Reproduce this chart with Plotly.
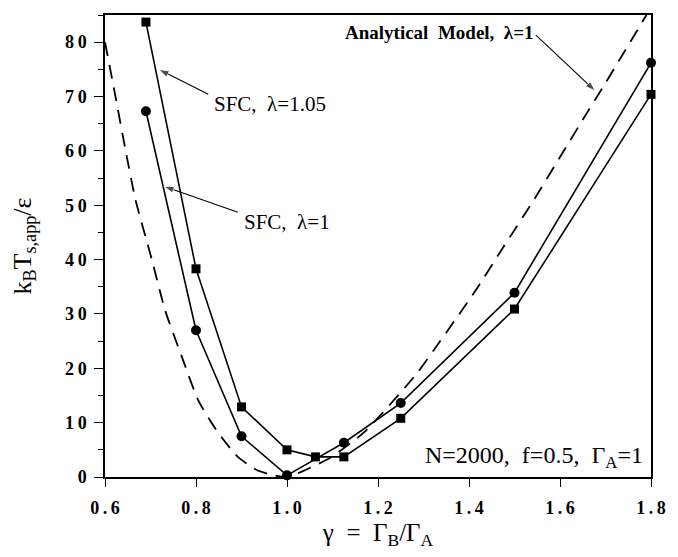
import plotly.graph_objects as go

# SFC, lambda = 1.05 (squares)
sfc105_x = [0.69, 0.8, 0.9, 1.0, 1.0625, 1.125, 1.25, 1.5, 1.8]
sfc105_y = [83.7, 38.3, 12.9, 5.0, 3.7, 3.7, 10.8, 30.9, 70.4]

# SFC, lambda = 1 (circles)
sfc1_x = [0.69, 0.8, 0.9, 1.0, 1.125, 1.25, 1.5, 1.8]
sfc1_y = [67.3, 27.0, 7.5, 0.3, 6.3, 13.6, 33.9, 76.2]

# Analytical model, lambda = 1 (dashed)
ana_x = [0.6, 0.623, 0.645, 0.667, 0.703, 0.732, 0.769, 0.805, 0.845, 0.892, 0.936,
         0.972, 1.0, 1.038, 1.096, 1.169, 1.285, 1.324, 1.416, 1.477, 1.539, 1.601,
         1.663, 1.70, 1.79]
ana_y = [80.0, 70.0, 60.2, 51.0, 40.0, 30.7, 22.1, 14.1, 8.6, 3.7, 1.2,
         0.3, 0.0, 1.2, 3.6, 8.2, 19.0, 23.5, 34.5, 42.5, 50.5, 59.0,
         67.5, 72.5, 85.0]

x_ticks = [0.6, 0.8, 1.0, 1.2, 1.4, 1.6, 1.8]
x_ticklabels = ["0.6", "0.8", "1.0", "1.2", "1.4", "1.6", "1.8"]
y_ticks = [0, 10, 20, 30, 40, 50, 60, 70, 80]
y_ticklabels = ["0", "10", "20", "30", "40", "50", "60", "70", "80"]

# label pointer arrows: (tail_x, tail_y, head_x, head_y)
arrows = [
    (1.547, 81.3, 1.678, 71.0),
    (0.827, 70.4, 0.718, 75.0),
    (0.892, 48.7, 0.729, 53.5),
]

TS = "\u2009"
def spaced(s):
    return TS.join(list(s))

SERIF = "Liberation Serif"

fig = go.Figure()
fig.add_trace(go.Scatter(x=ana_x, y=ana_y, mode="lines",
                         line=dict(color="black", width=1.8, dash="14px,9px", shape="spline", smoothing=0.6),
                         showlegend=False, hoverinfo="skip"))
fig.add_trace(go.Scatter(x=sfc1_x, y=sfc1_y, mode="lines+markers",
                         line=dict(color="black", width=1.6),
                         marker=dict(symbol="circle", size=10, color="black"),
                         cliponaxis=False, showlegend=False))
fig.add_trace(go.Scatter(x=sfc105_x, y=sfc105_y, mode="lines+markers",
                         line=dict(color="black", width=1.6),
                         marker=dict(symbol="square", size=9, color="black"),
                         cliponaxis=False, showlegend=False))
for tx, ty, hx, hy in arrows:
    fig.add_trace(go.Scatter(x=[tx, hx], y=[ty, hy], mode="lines+markers",
                             line=dict(color="black", width=1.1),
                             marker=dict(symbol=["circle", "arrow"], size=[0, 11], color="black",
                                         angleref="previous"),
                             showlegend=False, hoverinfo="skip"))

ann_font = dict(family=SERIF, size=21, color="black")
annotations = [
    dict(x=1.547, y=81.8, xref="x", yref="y", text="Analytical  Model,  λ=1",
         showarrow=False, xanchor="right", yanchor="middle",
         font=dict(family=SERIF, size=19, color="black", weight="bold")),
    dict(x=0.836, y=68.6, xref="x", yref="y", text="SFC,  λ=1.05",
         showarrow=False, xanchor="left", yanchor="middle", font=ann_font),
    dict(x=0.9, y=47.0, xref="x", yref="y", text="SFC,  λ=1",
         showarrow=False, xanchor="left", yanchor="middle", font=ann_font),
    dict(x=1.787, y=3.6, xref="x", yref="y", text="N=2000,  f=0.5,  Γ<sub>A</sub>=1",
         showarrow=False, xanchor="right", yanchor="middle",
         font=dict(family=SERIF, size=24, color="black")),
]

fig.update_layout(
    width=678, height=557,
    margin=dict(l=105, r=23, t=15, b=80),
    paper_bgcolor="white", plot_bgcolor="white",
    annotations=annotations,
    font=dict(family=SERIF, color="black"),
)
fig.update_xaxes(
    range=[0.6, 1.8], showgrid=False, zeroline=False,
    showline=True, linecolor="black", linewidth=1.5, mirror=True,
    tickmode="array", tickvals=x_ticks, ticktext=[spaced(t) for t in x_ticklabels],
    ticks="outside", ticklen=8, tickwidth=1.2, tickcolor="black",
    tickfont=dict(family=SERIF, size=18, color="black", weight="bold"),
    ticklabelstandoff=6,
    title=dict(text="γ  =  Γ<sub>B</sub>/Γ<sub>A</sub>", font=dict(family=SERIF, size=25, color="black"), standoff=6),
)
fig.update_yaxes(
    range=[0, 85], showgrid=False, zeroline=False,
    showline=True, linecolor="black", linewidth=1.5, mirror=True,
    tickmode="array", tickvals=y_ticks, ticktext=[spaced(t) for t in y_ticklabels],
    ticks="outside", ticklen=9, tickwidth=1.2, tickcolor="black",
    minor=dict(dtick=5, tick0=0, ticks="outside", ticklen=5, tickwidth=1, tickcolor="black"),
    tickfont=dict(family=SERIF, size=18, color="black", weight="bold"),
    ticklabelstandoff=4,
    title=dict(text="k<sub>B</sub>T<sub>s,app</sub>/ε",
               font=dict(family=SERIF, size=26, color="black"), standoff=26),
)

fig.write_html("out.html")
